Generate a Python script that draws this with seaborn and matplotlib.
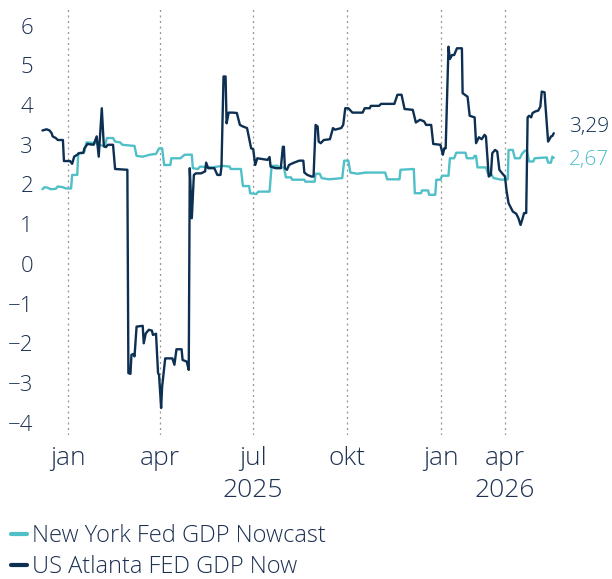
import numpy as np
import pandas as pd
import matplotlib
matplotlib.use("Agg")
import matplotlib.pyplot as plt
import seaborn as sns

# New York Fed GDP Nowcast
ny_dates = ["2024-12-07", "2024-12-09", "2024-12-12", "2024-12-15", "2024-12-20", "2024-12-22",
            "2024-12-27", "2024-12-30", "2025-01-04", "2025-01-05", "2025-01-10", "2025-01-11",
            "2025-01-16", "2025-01-17", "2025-01-19", "2025-01-29", "2025-01-30", "2025-02-06",
            "2025-02-08", "2025-02-14", "2025-02-16", "2025-02-21", "2025-02-23", "2025-03-07",
            "2025-03-09", "2025-03-15", "2025-03-22", "2025-03-28", "2025-03-31", "2025-04-03",
            "2025-04-05", "2025-04-11", "2025-04-12", "2025-04-21", "2025-04-25", "2025-05-02",
            "2025-05-03", "2025-05-08", "2025-05-10", "2025-05-22", "2025-06-01", "2025-06-08",
            "2025-06-09", "2025-06-19", "2025-06-21", "2025-06-27", "2025-06-28", "2025-07-04",
            "2025-07-06", "2025-07-17", "2025-07-19", "2025-07-25", "2025-07-26", "2025-07-31",
            "2025-08-02", "2025-08-07", "2025-08-08", "2025-08-20", "2025-08-21", "2025-08-30",
            "2025-08-31", "2025-09-04", "2025-09-06", "2025-09-13", "2025-09-26", "2025-09-28",
            "2025-10-02", "2025-10-04", "2025-10-11", "2025-10-19", "2025-11-07", "2025-11-09",
            "2025-11-21", "2025-11-22", "2025-12-05", "2025-12-06", "2025-12-12", "2025-12-13",
            "2025-12-19", "2025-12-20", "2025-12-26", "2025-12-27", "2025-12-31", "2026-01-02",
            "2026-01-11", "2026-01-13", "2026-01-19", "2026-01-22", "2026-02-04", "2026-02-06",
            "2026-02-15", "2026-02-17", "2026-02-19", "2026-02-21", "2026-03-05", "2026-03-08",
            "2026-03-12", "2026-03-16", "2026-03-24", "2026-03-27", "2026-04-05", "2026-04-06",
            "2026-04-12", "2026-04-15", "2026-04-22", "2026-04-25", "2026-04-29", "2026-05-02",
            "2026-05-05", "2026-05-11", "2026-05-13", "2026-05-30", "2026-06-01", "2026-06-05",
            "2026-06-07", "2026-06-09"]
ny_values = [1.88, 1.93, 1.92, 1.88, 1.89, 1.95,
             1.93, 1.90, 1.90, 2.24, 2.24, 2.79,
             2.79, 2.83, 3.06, 3.04, 3.00, 2.97,
             3.17, 3.17, 3.08, 3.06, 3.00, 2.97,
             2.72, 2.70, 2.75, 2.77, 2.91, 2.91,
             2.49, 2.49, 2.66, 2.66, 2.75, 2.75,
             2.41, 2.39, 2.45, 2.43, 2.47, 2.45,
             2.39, 2.39, 1.96, 1.96, 1.78, 1.76,
             1.82, 1.82, 2.47, 2.47, 2.43, 2.43,
             2.18, 2.18, 2.12, 2.12, 2.07, 2.07,
             2.27, 2.27, 2.16, 2.13, 2.16, 2.60,
             2.60, 2.30, 2.27, 2.30, 2.30, 2.13,
             2.13, 2.37, 2.39, 1.78, 1.78, 1.85,
             1.85, 1.74, 1.74, 2.12, 2.12, 2.22,
             2.22, 2.66, 2.66, 2.80, 2.80, 2.66,
             2.66, 2.72, 2.72, 2.43, 2.43, 2.27,
             2.27, 2.16, 2.13, 2.12, 2.13, 2.87,
             2.87, 2.66, 2.66, 2.77, 2.85, 2.85,
             2.58, 2.58, 2.66, 2.68, 2.55, 2.55,
             2.70, 2.67]

# US Atlanta FED GDP Now
atl_dates = ["2024-12-07", "2024-12-11", "2024-12-14", "2024-12-16", "2024-12-17", "2024-12-20",
             "2024-12-22", "2024-12-27", "2024-12-28", "2025-01-03", "2025-01-05", "2025-01-07",
             "2025-01-10", "2025-01-12", "2025-01-16", "2025-01-17", "2025-01-20", "2025-01-26",
             "2025-01-29", "2025-01-31", "2025-02-03", "2025-02-05", "2025-02-07", "2025-02-09",
             "2025-02-14", "2025-02-16", "2025-02-28", "2025-03-01", "2025-03-03", "2025-03-04",
             "2025-03-06", "2025-03-07", "2025-03-09", "2025-03-15", "2025-03-16", "2025-03-18",
             "2025-03-21", "2025-03-24", "2025-03-25", "2025-03-28", "2025-03-30", "2025-03-31",
             "2025-04-02", "2025-04-03", "2025-04-06", "2025-04-13", "2025-04-15", "2025-04-17",
             "2025-04-22", "2025-04-23", "2025-04-27", "2025-04-29", "2025-04-30", "2025-05-02",
             "2025-05-04", "2025-05-06", "2025-05-11", "2025-05-15", "2025-05-16", "2025-05-18",
             "2025-05-24", "2025-05-27", "2025-05-30", "2025-05-31", "2025-06-02", "2025-06-04",
             "2025-06-05", "2025-06-07", "2025-06-11", "2025-06-15", "2025-06-18", "2025-06-21",
             "2025-06-25", "2025-06-29", "2025-07-01", "2025-07-03", "2025-07-05", "2025-07-10",
             "2025-07-15", "2025-07-17", "2025-07-18", "2025-07-23", "2025-07-28", "2025-07-30",
             "2025-07-31", "2025-08-01", "2025-08-03", "2025-08-05", "2025-08-09", "2025-08-15",
             "2025-08-19", "2025-08-20", "2025-08-23", "2025-08-27", "2025-08-29", "2025-08-31",
             "2025-09-02", "2025-09-03", "2025-09-05", "2025-09-08", "2025-09-14", "2025-09-17",
             "2025-09-19", "2025-09-25", "2025-09-27", "2025-09-29", "2025-10-02", "2025-10-06",
             "2025-10-16", "2025-10-18", "2025-10-23", "2025-10-24", "2025-11-01", "2025-11-03",
             "2025-11-16", "2025-11-19", "2025-11-23", "2025-11-26", "2025-12-04", "2025-12-07",
             "2025-12-11", "2025-12-15", "2025-12-17", "2025-12-22", "2025-12-24", "2025-12-31",
             "2026-01-03", "2026-01-05", "2026-01-07", "2026-01-11", "2026-01-13", "2026-01-16",
             "2026-01-19", "2026-01-23", "2026-01-30", "2026-01-31", "2026-02-07", "2026-02-10",
             "2026-02-17", "2026-02-19", "2026-02-23", "2026-02-27", "2026-03-03", "2026-03-05",
             "2026-03-09", "2026-03-12", "2026-03-14", "2026-03-18", "2026-03-21", "2026-03-24",
             "2026-03-28", "2026-04-01", "2026-04-03", "2026-04-06", "2026-04-12", "2026-04-17",
             "2026-04-20", "2026-04-23", "2026-04-26", "2026-04-28", "2026-05-01", "2026-05-03",
             "2026-05-05", "2026-05-08", "2026-05-10", "2026-05-14", "2026-05-18", "2026-05-21",
             "2026-05-23", "2026-05-27", "2026-05-28", "2026-06-01", "2026-06-04", "2026-06-05",
             "2026-06-07", "2026-06-09"]
atl_values = [3.36, 3.39, 3.36, 3.29, 3.21, 3.17,
              3.12, 3.12, 2.59, 2.59, 2.52, 2.70,
              2.75, 2.79, 2.80, 2.91, 3.02, 3.00,
              3.21, 2.70, 3.92, 2.96, 2.94, 3.00,
              3.00, 2.39, 2.37, -2.75, -2.77, -2.29,
              -2.27, -2.33, -1.58, -1.56, -2.00, -1.75,
              -1.66, -1.68, -1.79, -1.76, -2.75, -2.80,
              -3.63, -3.09, -2.38, -2.38, -2.54, -2.15,
              -2.15, -2.42, -2.46, -2.67, 2.41, 1.15,
              2.24, 2.28, 2.28, 2.33, 2.55, 2.41,
              2.41, 2.24, 2.24, 2.45, 4.72, 4.72,
              3.54, 3.81, 3.81, 3.80, 3.50, 3.46,
              3.42, 2.91, 2.89, 2.49, 2.66, 2.64,
              2.62, 2.69, 2.45, 2.41, 2.41, 2.95,
              2.95, 2.41, 2.37, 2.49, 2.54, 2.60,
              2.60, 2.30, 2.24, 2.20, 2.20, 3.50,
              3.46, 3.08, 3.04, 3.12, 3.14, 3.42,
              3.38, 3.42, 3.50, 3.92, 3.92, 3.81,
              3.81, 3.92, 3.92, 3.98, 3.98, 4.03,
              4.03, 4.26, 4.26, 3.90, 3.88, 3.56,
              3.63, 3.59, 3.50, 3.50, 3.02, 3.00,
              2.75, 2.91, 2.91, 5.47, 5.16, 5.26,
              5.26, 5.43, 5.43, 4.30, 4.21, 3.73,
              3.69, 3.04, 3.19, 3.14, 3.25, 3.21,
              2.20, 2.24, 2.79, 2.87, 2.83, 2.37,
              2.28, 2.20, 1.86, 1.53, 1.32, 1.26,
              1.15, 0.98, 1.15, 1.28, 1.28, 3.69,
              3.73, 3.69, 3.80, 3.84, 3.86, 3.96,
              4.34, 4.32, 4.05, 3.08, 3.17, 3.21,
              3.22, 3.29]

series_names = ["New York Fed GDP Nowcast", "US Atlanta FED GDP Now"]
series_colors = ["#4fc0c8", "#0c2f52"]

tick_dates = ["2025-01-01", "2025-04-01", "2025-07-01", "2025-10-01", "2026-01-01", "2026-04-01"]
tick_labels = ["jan", "apr", "jul\n2025", "okt", "jan", "apr\n2026"]
y_ticks = list(range(-4, 7))

# the source axis gives early 2026 less room than 2025 (fewer observations),
# so calendar days are squeezed onto an observation scale after new year
base = pd.Timestamp("2025-01-01")
knot_days = [-31, 365, 546]
knot_obs = [-31, 365, 490]


def to_obs(dates):
    days = (pd.to_datetime(dates) - base).days.values
    return np.interp(days, knot_days, knot_obs)


ny = pd.DataFrame({"x": to_obs(ny_dates), "value": ny_values})
atl = pd.DataFrame({"x": to_obs(atl_dates), "value": atl_values})

sns.set_theme(style="white")
plt.rcParams["font.family"] = ["Open Sans", "DejaVu Sans"]
text_color = "#1d3152"

fig = plt.figure(figsize=(6.12, 5.79), dpi=100)
ax = fig.add_axes([40 / 612, 144 / 579, 516 / 612, 428 / 579])

sns.lineplot(data=ny, x="x", y="value", ax=ax, color=series_colors[0], lw=1.7,
             estimator=None, sort=False, label=series_names[0])
sns.lineplot(data=atl, x="x", y="value", ax=ax, color=series_colors[1], lw=1.7,
             estimator=None, sort=False, label=series_names[1])

ax.set_xlim(-27.4, 477)
ax.set_ylim(-4.31, 6.47)
ax.set_yticks(y_ticks)
ax.set_yticklabels([str(v).replace("-", "\u2212") for v in y_ticks])
ax.set_xticks(to_obs(tick_dates))
ax.set_xticklabels(tick_labels, linespacing=1.36)
ax.tick_params(axis="both", length=0, labelcolor=text_color)
ax.tick_params(axis="x", pad=8, labelsize=19)
ax.tick_params(axis="y", pad=5, labelsize=16)
for lab in ax.get_xticklabels() + ax.get_yticklabels():
    lab.set_fontweight("light")
ax.set_xlabel("")
ax.set_ylabel("")
ax.grid(axis="x", color="#979797", lw=0.9, linestyle=(0, (1.6, 2.8)))
ax.grid(axis="y", visible=False)
sns.despine(ax=ax, left=True, bottom=True)

# last values at the right end
for df, col, dy in [(atl, series_colors[1], 4.3), (ny, series_colors[0], -1.5)]:
    last_x, last_v = df["x"].iloc[-1], df["value"].iloc[-1]
    ax.annotate(f"{last_v:.2f}".replace(".", ","), xy=(last_x, last_v),
                xytext=(11, dy), textcoords="offset points",
                va="center", ha="left", color=col, fontsize=15, fontweight="light",
                annotation_clip=False)

handles, labels = ax.get_legend_handles_labels()
ax.get_legend().remove()
leg = fig.legend(handles, labels, loc="upper left", bbox_to_anchor=(11 / 612, 55 / 579),
                 frameon=False, handlelength=0.68, handletextpad=0.2,
                 labelspacing=0.3, borderpad=0, borderaxespad=0, labelcolor=text_color,
                 prop={"weight": "light", "size": 17})
for line in leg.get_lines():
    line.set_linewidth(3)

fig.savefig("out.png", dpi=100)
